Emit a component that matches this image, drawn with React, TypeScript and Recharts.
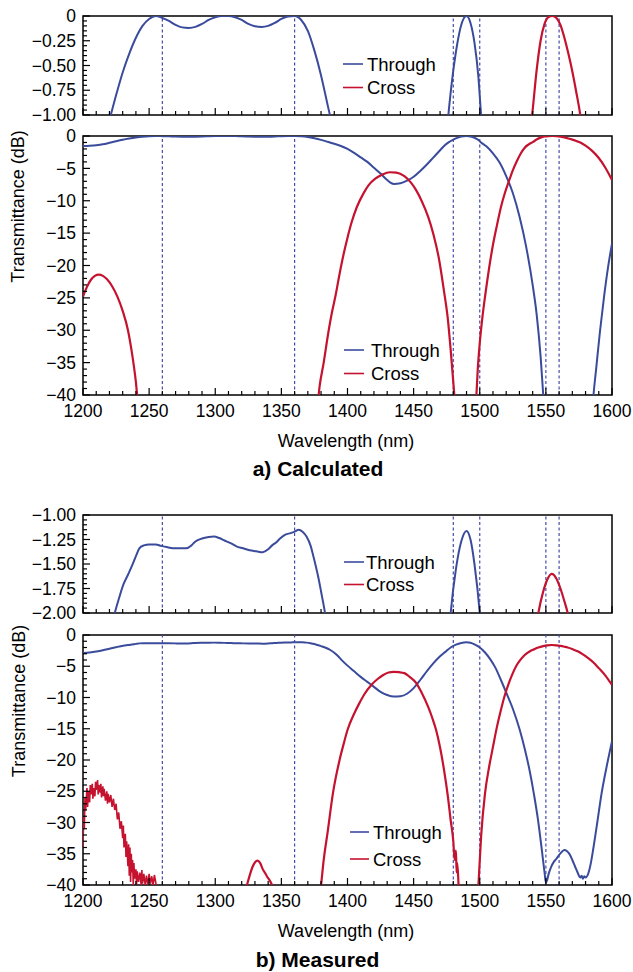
import React from 'react';
import { LineChart, Line, XAxis, YAxis, ReferenceLine, ReferenceArea } from 'recharts';

type Pt = [number, number];

// ---------- data (wavelength nm, transmittance dB) ----------
const calcThrough: Pt[] = [
  [1200, -1.55], [1205, -1.5], [1210, -1.42], [1215, -1.28], [1220, -1.05], [1225, -0.8],
  [1230, -0.57], [1235, -0.38], [1240, -0.22], [1245, -0.1], [1250, -0.03], [1255, 0],
  [1260, -0.02], [1265, -0.05], [1270, -0.09], [1275, -0.115], [1280, -0.12], [1285, -0.11],
  [1290, -0.08], [1295, -0.04], [1300, -0.012], [1305, 0], [1310, 0], [1315, -0.012],
  [1320, -0.04], [1325, -0.08], [1330, -0.104], [1335, -0.11], [1340, -0.1], [1345, -0.07],
  [1350, -0.03], [1355, -0.005], [1360, 0], [1365, -0.04], [1370, -0.15], [1375, -0.35],
  [1380, -0.6], [1385, -0.9], [1390, -1.2], [1395, -1.55], [1400, -2.0], [1405, -2.6],
  [1410, -3.3], [1415, -4.0], [1420, -4.9], [1425, -5.8], [1430, -6.8], [1435, -7.4],
  [1440, -7.3], [1445, -6.9], [1450, -6.3], [1455, -5.4], [1460, -4.4], [1465, -3.3],
  [1470, -2.2], [1474, -1.35], [1477, -0.9], [1480, -0.55], [1483, -0.28], [1486, -0.09],
  [1490, 0], [1493, -0.07], [1496, -0.27], [1499, -0.62], [1501, -1.0], [1505, -1.6],
  [1510, -2.7], [1515, -4.1], [1520, -6.2], [1525, -8.8], [1530, -12.4], [1535, -17],
  [1540, -23], [1543, -27.5], [1546, -34], [1548, -40], [1550, -46], [1567, -70],
  [1584, -46], [1586, -40], [1588, -36], [1591, -30], [1594, -24.8], [1597, -20.3],
  [1600, -16.6],
];

const calcCross: Pt[] = [
  [1200, -24.8], [1203, -23.3], [1206, -22.2], [1209, -21.6], [1212, -21.4], [1215, -21.6],
  [1218, -22.1], [1222, -23.2], [1226, -24.8], [1230, -27], [1234, -30], [1237, -33.5],
  [1240, -38], [1242, -42], [1310, -70], [1377, -42], [1379, -38.5], [1382, -35],
  [1385, -31], [1388, -27.5], [1391, -24.6], [1394, -21.3], [1397, -18.3], [1400, -15.7],
  [1403, -13.4], [1407, -11], [1412, -8.9], [1416, -7.6], [1421, -6.6], [1426, -6.0],
  [1432, -5.6], [1437, -5.65], [1443, -6.2], [1448, -7.2], [1452, -8.4], [1456, -10],
  [1461, -12.5], [1465, -15.2], [1469, -18.8], [1473, -24], [1476, -28.5], [1478, -33],
  [1480, -38], [1481.5, -42], [1490, -70], [1497, -42], [1498.5, -36], [1500, -32],
  [1502, -28], [1504, -24.8], [1507, -20.5], [1510, -16.8], [1513, -13.8], [1516, -11],
  [1519, -8.8], [1522, -7], [1525, -5.3], [1528, -3.9], [1531, -2.7], [1534, -1.8],
  [1537, -1.3], [1540, -0.95], [1543, -0.55], [1546, -0.25], [1549, -0.08], [1552, -0.01],
  [1555, 0], [1558, -0.02], [1561, -0.09], [1564, -0.22], [1567, -0.38], [1570, -0.56],
  [1573, -0.77], [1576, -1.0], [1580, -1.5], [1585, -2.3], [1590, -3.4], [1595, -4.9],
  [1600, -6.8],
];

const measThrough: Pt[] = [
  [1200, -2.9], [1205, -2.8], [1210, -2.65], [1215, -2.45], [1220, -2.2], [1224, -2.0],
  [1227, -1.86], [1230.5, -1.71], [1234, -1.61], [1237, -1.52], [1240, -1.42], [1242.6, -1.34],
  [1246, -1.31], [1250, -1.3], [1255, -1.3], [1259, -1.315], [1264, -1.33], [1270, -1.34],
  [1278, -1.34], [1282, -1.31], [1285, -1.27], [1290, -1.24], [1295, -1.225], [1299, -1.22],
  [1303, -1.235], [1307, -1.26], [1312, -1.29], [1316, -1.32], [1321, -1.34], [1326, -1.36],
  [1331, -1.37], [1336, -1.38], [1340, -1.35], [1343, -1.31], [1346, -1.28], [1349, -1.24],
  [1353, -1.2], [1357, -1.185], [1360, -1.17], [1363, -1.15], [1366, -1.17], [1369, -1.22],
  [1372, -1.31], [1374, -1.41], [1376, -1.52], [1378, -1.64], [1380, -1.78], [1383, -2.0],
  [1387, -2.4], [1392, -3.2], [1396, -4.1], [1400, -4.9], [1405, -5.8], [1410, -6.7],
  [1415, -7.5], [1420, -8.3], [1425, -9.1], [1430, -9.6], [1435, -9.85], [1440, -9.8],
  [1445, -9.4], [1450, -8.5], [1455, -7.2], [1460, -5.8], [1465, -4.5], [1470, -3.4],
  [1474, -2.7], [1478, -2.0], [1482, -1.55], [1486, -1.27], [1490, -1.163], [1493, -1.25],
  [1496, -1.5], [1500, -2.0], [1504, -2.8], [1508, -3.9], [1512, -5.3], [1516, -7.2],
  [1520, -9.2], [1525, -11.8], [1530, -15], [1534, -18.2], [1538, -22], [1541, -25.5],
  [1544, -29.5], [1547, -34.5], [1549, -38], [1550, -39.6], [1551, -39.2], [1552, -38.3],
  [1554, -37.1], [1556, -36.3], [1558, -35.8], [1560, -35.2], [1562, -34.7], [1564, -34.4],
  [1566, -34.6], [1568, -35.1], [1570, -36], [1572, -37], [1574, -38], [1576, -38.8],
  [1577, -38.5], [1578, -39], [1579, -38.6], [1580, -38.8], [1582, -38.2], [1584, -36.5],
  [1586, -34], [1589, -29.8], [1592, -25.5], [1596, -21], [1600, -17],
];

const measCrossNoisy: Pt[] = [
  [1200, -34], [1200.5, -29], [1201, -31], [1201.5, -26], [1202, -28], [1203, -24.5],
  [1203.5, -27.5], [1204, -25], [1205, -26.8], [1205.5, -24], [1206, -25.5], [1207, -23.8],
  [1207.5, -26.2], [1208, -24.5], [1209, -25.8], [1209.5, -23.5], [1210, -24.8], [1211, -23.2],
  [1211.5, -25.5], [1212, -24], [1213, -25.2], [1213.5, -23.8], [1214, -26], [1215, -24.2],
  [1215.5, -25.8], [1216, -24.6], [1217, -26.5], [1218, -25], [1218.5, -27], [1219, -25.4],
  [1220, -26.8], [1221, -25.6], [1222, -27.5], [1223, -26.2], [1224, -28], [1225, -27],
  [1226, -29.5], [1227, -28.4], [1228, -31], [1229, -29.8], [1230, -32.5], [1230.5, -30.5],
  [1231, -34], [1232, -31.8], [1232.5, -35.5], [1233, -33], [1234, -37], [1234.5, -33.5],
  [1235, -38.5], [1235.5, -34], [1236, -39.5], [1236.5, -35], [1237, -38], [1237.5, -36],
  [1238, -40], [1238.5, -36.5], [1239, -39], [1240, -37.5], [1240.5, -40], [1241, -37.8],
  [1242, -39.5], [1243, -38], [1244, -40], [1244.5, -37.6], [1245, -39.8], [1246, -38.2],
  [1247, -40], [1248, -38.5], [1249, -40], [1250, -38.2], [1251, -39.8], [1252, -38.6],
  [1253, -40], [1254, -38.4], [1255, -39.6], [1256, -41], [1257, -45],
];

const measCrossSmooth: Pt[] = [
  [1320, -44], [1322, -41.5], [1324, -40], [1326, -38.5], [1328, -37.2], [1330, -36.4],
  [1332, -36.1], [1334, -36.5], [1336, -37.5], [1338, -38.2], [1339, -38.6], [1341, -39.2],
  [1343, -40.1], [1345, -42], [1360, -60], [1378, -43], [1380, -40], [1382, -36],
  [1385, -31.5], [1389, -25.3], [1394, -20], [1397, -17.5], [1400, -15.2], [1405, -12.6],
  [1409, -10.9], [1413, -9.4], [1418, -8], [1423, -7], [1427, -6.4], [1431, -6.0],
  [1435, -5.9], [1439, -5.95], [1443, -6.1], [1447, -6.7], [1452, -7.7], [1456, -9.2],
  [1461, -11.5], [1464, -13.2], [1467, -15.2], [1470, -18], [1473, -21.6], [1476, -26],
  [1478, -29.6], [1480, -33], [1481, -36], [1482, -34.5], [1482.5, -38], [1483, -36.5],
  [1484, -40], [1485, -43], [1491, -60], [1498, -43], [1499, -40], [1501, -32.3],
  [1504, -25.3], [1507, -21.2], [1510, -17.9], [1513, -14.7], [1516, -12], [1519, -9.6],
  [1522, -7.7], [1525, -6.1], [1528, -4.8], [1531, -3.9], [1534, -3.2], [1538, -2.6],
  [1541, -2.3], [1544.3, -2.0], [1548, -1.78], [1551, -1.66], [1554.4, -1.6], [1558, -1.65],
  [1561, -1.75], [1564, -1.88], [1566.5, -2.0], [1570, -2.25], [1574, -2.6], [1578, -3.1],
  [1582, -3.7], [1586, -4.4], [1590, -5.3], [1595, -6.5], [1600, -8],
];

const wavelengthTicks = [
  1200, 1210, 1220, 1230, 1240, 1250, 1260, 1270, 1280, 1290, 1300, 1310, 1320, 1330,
  1340, 1350, 1360, 1370, 1380, 1390, 1400, 1410, 1420, 1430, 1440, 1450, 1460, 1470,
  1480, 1490, 1500, 1510, 1520, 1530, 1540, 1550, 1560, 1570, 1580, 1590, 1600,
];
const wavelengthLabels = [1200, 1250, 1300, 1350, 1400, 1450, 1500, 1550, 1600];
const guideWavelengths = [1260, 1360, 1480, 1500, 1550, 1560];

const zoomCalcLabels = [0, -0.25, -0.5, -0.75, -1];
const zoomMeasLabels = [-1, -1.25, -1.5, -1.75, -2];
const dbLabels = [0, -5, -10, -15, -20, -25, -30, -35, -40];

// ---------- styling ----------
const BLUE = '#3a4b9c';
const RED = '#c4122f';
const GUIDE = '#474ca6';
const FONT = '"Liberation Sans", Arial, Helvetica, sans-serif';
const TICK_FS = 17.5;

const steps = (from: number, to: number, step: number) => {
  const out: number[] = [];
  const n = Math.round((to - from) / step);
  for (let i = 0; i <= n; i++) out.push(Math.round((from + i * step) * 1000) / 1000);
  return out;
};

const rows = (pts: Pt[]) => pts.map(([wl, db]) => ({ wl, db }));

const fmt = (v: number, dec: number) => (Math.abs(v) < 1e-9 ? '0' : '\u2212' + Math.abs(v).toFixed(dec));

const makeXTick = (showLabels: boolean) => (props: any) => {
  const { x, y, payload } = props;
  const v = payload.value as number;
  const major = wavelengthLabels.indexOf(v) >= 0;
  return (
    <g>
      <line x1={x} x2={x} y1={y} y2={y - (major ? 7 : 4)} stroke="#000" strokeWidth={1.2} />
      {showLabels && major ? (
        <text x={x} y={y + 21.5} textAnchor="middle" fontSize={TICK_FS} fill="#000" fontFamily={FONT}>
          {v}
        </text>
      ) : null}
    </g>
  );
};

const makeYTick = (labels: number[], dec: number) => (props: any) => {
  const { x, y, payload } = props;
  const v = payload.value as number;
  const major = labels.some((m) => Math.abs(m - v) < 1e-6);
  return (
    <g>
      <line x1={x} x2={x + (major ? 7 : 4)} y1={y} y2={y} stroke="#000" strokeWidth={1.2} />
      {major ? (
        <text x={x - 7} y={y + 6.2} textAnchor="end" fontSize={TICK_FS} fill="#000" fontFamily={FONT}>
          {fmt(v, dec)}
        </text>
      ) : null}
    </g>
  );
};

type PanelProps = {
  top: number;
  plotH: number;
  domain: [number, number];
  step: number;
  labels: number[];
  dec: number;
  xLabels: boolean;
  through: Pt[];
  crossSmooth: Pt[];
  crossNoisy?: Pt[];
};

const M_TOP = 10;
const X_AXIS_H = 30;

function Panel(p: PanelProps) {
  const h = M_TOP + p.plotH + X_AXIS_H;
  return (
    <div style={{ position: 'absolute', left: 0, top: p.top - M_TOP }}>
      <LineChart width={633} height={h} margin={{ top: M_TOP, right: 21, bottom: 0, left: 0 }}>
        <XAxis
          dataKey="wl"
          type="number"
          domain={[1200, 1600]}
          ticks={wavelengthTicks}
          interval={0}
          allowDataOverflow
          axisLine={false}
          tickLine={false}
          tickSize={0}
          tickMargin={0}
          height={X_AXIS_H}
          tick={makeXTick(p.xLabels)}
        />
        <YAxis
          dataKey="db"
          type="number"
          domain={p.domain}
          ticks={steps(p.domain[0], p.domain[1], p.step)}
          interval={0}
          allowDataOverflow
          axisLine={false}
          tickLine={false}
          tickSize={0}
          tickMargin={0}
          width={83}
          tick={makeYTick(p.labels, p.dec)}
        />
        {guideWavelengths.map((g) => (
          <ReferenceLine key={g} x={g} stroke={GUIDE} strokeWidth={1.2} strokeDasharray="3 2.5" />
        ))}
        <Line
          data={rows(p.through)}
          dataKey="db"
          type="monotone"
          stroke={BLUE}
          strokeWidth={2}
          dot={false}
          isAnimationActive={false}
        />
        {p.crossNoisy ? (
          <Line
            data={rows(p.crossNoisy)}
            dataKey="db"
            type="linear"
            stroke={RED}
            strokeWidth={1.6}
            dot={false}
            isAnimationActive={false}
          />
        ) : null}
        <Line
          data={rows(p.crossSmooth)}
          dataKey="db"
          type="monotone"
          stroke={RED}
          strokeWidth={2.2}
          dot={false}
          isAnimationActive={false}
        />
        <ReferenceArea
          x1={1200}
          x2={1600}
          y1={p.domain[0]}
          y2={p.domain[1]}
          fill="none"
          fillOpacity={0}
          stroke="#000"
          strokeWidth={1.5}
        />
      </LineChart>
    </div>
  );
}

type LegendSpec = { x1: number; x2: number; tx: number; y1: number; y2: number };
const legends: LegendSpec[] = [
  { x1: 343, x2: 363, tx: 367, y1: 64, y2: 87.5 },
  { x1: 344, x2: 364, tx: 371, y1: 350, y2: 373.5 },
  { x1: 344, x2: 364, tx: 366, y1: 562, y2: 584.5 },
  { x1: 350, x2: 369, tx: 373, y1: 832, y2: 859 },
];

export default function App() {
  return (
    <div
      style={{
        position: 'absolute',
        left: 0,
        top: 0,
        width: 633,
        height: 972,
        background: '#fff',
        fontFamily: FONT,
        overflow: 'hidden',
      }}
    >
      <Panel
        top={16}
        plotH={99}
        domain={[-1, 0]}
        step={0.05}
        labels={zoomCalcLabels}
        dec={2}
        xLabels={false}
        through={calcThrough}
        crossSmooth={calcCross}
      />
      <Panel
        top={136}
        plotH={259}
        domain={[-40, 0]}
        step={1}
        labels={dbLabels}
        dec={0}
        xLabels={true}
        through={calcThrough}
        crossSmooth={calcCross}
      />
      <Panel
        top={515}
        plotH={98}
        domain={[-2, -1]}
        step={0.05}
        labels={zoomMeasLabels}
        dec={2}
        xLabels={false}
        through={measThrough}
        crossSmooth={measCrossSmooth}
        crossNoisy={measCrossNoisy}
      />
      <Panel
        top={635}
        plotH={250}
        domain={[-40, 0]}
        step={1}
        labels={dbLabels}
        dec={0}
        xLabels={true}
        through={measThrough}
        crossSmooth={measCrossSmooth}
        crossNoisy={measCrossNoisy}
      />
      <svg
        width={633}
        height={972}
        style={{ position: 'absolute', left: 0, top: 0, pointerEvents: 'none' }}
        fontFamily={FONT}
      >
        {legends.map((l, i) => (
          <g key={i}>
            <line x1={l.x1} x2={l.x2} y1={l.y1} y2={l.y1} stroke={BLUE} strokeWidth={1.6} />
            <text x={l.tx} y={l.y1 + 6.6} fontSize={18.5} fill="#000">
              Through
            </text>
            <line x1={l.x1} x2={l.x2} y1={l.y2} y2={l.y2} stroke={RED} strokeWidth={1.6} />
            <text x={l.tx} y={l.y2 + 6.6} fontSize={18.5} fill="#000">
              Cross
            </text>
          </g>
        ))}
        <text transform="translate(23.5 206.5) rotate(-90)" textAnchor="middle" fontSize={18} fill="#000">
          Transmittance (dB)
        </text>
        <text transform="translate(24.5 701) rotate(-90)" textAnchor="middle" fontSize={18} fill="#000">
          Transmittance (dB)
        </text>
        <text x={346} y={447} textAnchor="middle" fontSize={18} fill="#000">
          Wavelength (nm)
        </text>
        <text x={346} y={936.5} textAnchor="middle" fontSize={18} fill="#000">
          Wavelength (nm)
        </text>
        <text x={318} y={475.5} textAnchor="middle" fontSize={21} fontWeight="bold" fill="#000">
          a) Calculated
        </text>
        <text x={317.5} y={966.5} textAnchor="middle" fontSize={21} fontWeight="bold" fill="#000">
          b) Measured
        </text>
      </svg>
    </div>
  );
}
